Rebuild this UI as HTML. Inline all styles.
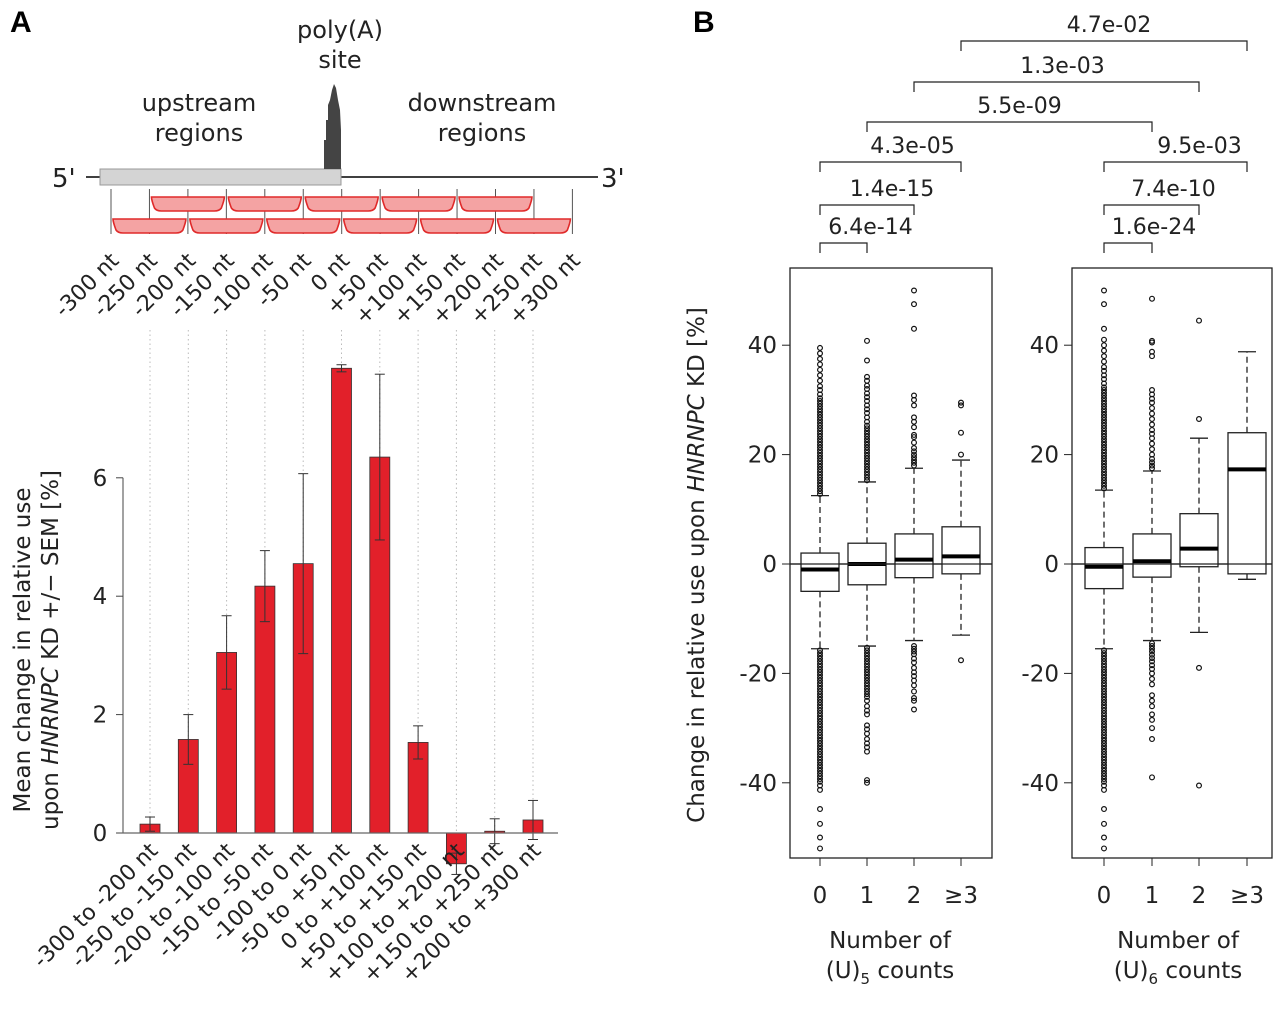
<!DOCTYPE html>
<html><head><meta charset="utf-8"><style>
body{margin:0;background:#fff}
svg{font-family:"DejaVu Sans","Liberation Sans",sans-serif}
</style></head><body>
<svg id="fig" width="1280" height="1024" viewBox="0 0 1280 1024" xmlns="http://www.w3.org/2000/svg">
<text x="10" y="32" font-size="30" font-weight="bold" font-family="Liberation Sans,sans-serif">A</text>
<text x="693" y="32" font-size="30" font-weight="bold" font-family="Liberation Sans,sans-serif">B</text>
<g font-size="24" fill="#222">
 <text x="340" y="38" text-anchor="middle">poly(A)</text>
 <text x="340" y="68" text-anchor="middle">site</text>
 <text x="199" y="111" text-anchor="middle">upstream</text>
 <text x="199" y="141" text-anchor="middle">regions</text>
 <text x="482" y="111" text-anchor="middle">downstream</text>
 <text x="482" y="141" text-anchor="middle">regions</text>
 <text x="52" y="187" font-size="26">5'</text>
 <text x="601" y="187" font-size="26">3'</text>
 <line x1="86" y1="177" x2="598" y2="177" stroke="#000" stroke-width="1.5"/>
 <rect x="100" y="169" width="241" height="16" fill="#d4d4d4" stroke="#999"/>
 <path d="M324,169 L324,140 L326,140 L326,120 L328,120 L328,105 L330,100 L332,90 L334,84 L336,88 L338,100 L340,110 L341,130 L341,169 Z" fill="#444"/>
</g>
<g id="schem"></g>
<g id="barchart"></g>
<g id="boxes"></g>
</svg>
<script>
const NS="http://www.w3.org/2000/svg";
function mk(tag,attrs,parent,txt){const e=document.createElementNS(NS,tag);for(const k in attrs)e.setAttribute(k,attrs[k]);if(txt!==undefined)e.textContent=txt;parent.appendChild(e);return e;}

// ---------- Panel A data ----------
const posLabels=["-300 nt","-250 nt","-200 nt","-150 nt","-100 nt","-50 nt","0 nt","+50 nt","+100 nt","+150 nt","+200 nt","+250 nt","+300 nt"];
const barCategories=["-300 to -200 nt","-250 to -150 nt","-200 to -100 nt","-150 to -50 nt","-100 to 0 nt","-50 to +50 nt","0 to +100 nt","+50 to +150 nt","+100 to +200 nt","+150 to +250 nt","+200 to +300 nt"];
const barValues=[0.15,1.58,3.05,4.17,4.55,7.85,6.35,1.53,-0.52,0.03,0.22];
const barErrors=[0.12,0.42,0.62,0.6,1.52,0.06,1.4,0.28,0.18,0.21,0.33];
const yTicksA=[0,2,4,6];

const schem=document.getElementById('schem');
const posX=i=>111+i*38.45;
posLabels.forEach((l,i)=>{
 const x=posX(i);
 const ln=mk('line',{x1:x,y1:189,x2:x,y2:234,stroke:'#555','stroke-width':1},schem);
 
 
 const t=mk('text',{x:x+9,y:262,'text-anchor':'end','font-size':22,fill:'#222',transform:`rotate(-45 ${x+9} 262)`},schem,l);
 
 
});
function seg(x1,x2,y){
 const p=mk('path',{d:`M${x1+2},${y} L${x2-2},${y} Q${x2-2},${y+3} ${x2-5},${y+11} Q${x2-7},${y+14} ${x2-12},${y+14} L${x1+12},${y+14} Q${x1+7},${y+14} ${x1+5},${y+11} Q${x1+2},${y+3} ${x1+2},${y} Z`,fill:'#f4a3a3',stroke:'#e02a2a','stroke-width':1.6},schem);
 
 
}
for(let i=1;i<=9;i+=2)seg(posX(i),posX(i+2),197);
for(let i=0;i<=10;i+=2)seg(posX(i),posX(i+2),219);

// bar chart
const bc=document.getElementById('barchart');
const yA=v=>833-v*59.2;
const bx=i=>150+i*38.3;
barCategories.forEach((c,i)=>{
 const x=bx(i);
 const d=mk('line',{x1:x,y1:330,x2:x,y2:833,stroke:'#bbb','stroke-dasharray':'1.5,3','stroke-width':1},bc);
 
 
});
yTicksA.forEach(v=>{
 const t=mk('line',{x1:116,y1:yA(v),x2:123,y2:yA(v),stroke:'#444'},bc);
 
 
 const l=mk('text',{x:100,y:yA(v)+8,'text-anchor':'middle','font-size':23,fill:'#222'},bc,String(v));
 
 
});
mk('line',{x1:123,y1:yA(0),x2:123,y2:yA(6),stroke:'#444'},bc);
barValues.forEach((v,i)=>{
 const x=bx(i),w=20;
 const r=mk('rect',{x:x-w/2,y:Math.min(yA(v),yA(0)),width:w,height:Math.abs(yA(v)-yA(0)),fill:'#e2202a',stroke:'#333','stroke-width':0.8},bc);
 
 
 const e=barErrors[i],g=mk('g',{stroke:'#333','stroke-width':1},bc);
 
 
 mk('line',{x1:x,y1:yA(v+e),x2:x,y2:yA(v-e)},g);
 mk('line',{x1:x-5,y1:yA(v+e),x2:x+5,y2:yA(v+e)},g);
 mk('line',{x1:x-5,y1:yA(v-e),x2:x+5,y2:yA(v-e)},g);
 const t=mk('text',{x:x+9,y:852,'text-anchor':'end','font-size':22,fill:'#222',transform:`rotate(-45 ${x+9} 852)`},bc,barCategories[i]);
 
 
});
const base=mk('line',{x1:117,y1:yA(0),x2:558,y2:yA(0),stroke:'#666','stroke-width':1.2},bc);


const yt=mk('text',{'font-size':23,fill:'#222','text-anchor':'middle',transform:'translate(30 650) rotate(-90)'},bc);


yt.innerHTML='<tspan x="0" y="0">Mean change in relative use</tspan><tspan x="0" y="28">upon <tspan font-style="italic">HNRNPC</tspan> KD +/− SEM [%]</tspan>';

// ---------- Panel B data ----------
const boxCats=["0","1","2","≥3"];
const u5Q1=[-5,-3.8,-2.5,-1.8], u5Med=[-1,0,0.8,1.4], u5Q3=[2,3.8,5.5,6.8], u5WLo=[-15.5,-15,-14,-13], u5WHi=[12.5,15,17.5,19];
const u6Q1=[-4.5,-2.4,-0.5,-1.8], u6Med=[-0.5,0.5,2.8,17.3], u6Q3=[3,5.5,9.2,24], u6WHi=[13.5,17,23,38.8], u6WLo=[-15.5,-14,-12.5,-2.8];
const u5Out=[
 [12.8,13.3,13.8,14.3,14.8,15.3,15.8,16.3,16.8,17.3,17.8,18.3,18.8,19.3,19.8,20.3,20.8,21.3,21.8,22.3,22.8,23.3,23.8,24.3,24.8,25.3,25.8,26.3,26.8,27.3,27.8,28.3,28.8,29.3,29.8,30.3,31,31.8,32.5,33.5,34.5,35.5,36.5,37.5,38.5,39.5,-15.8,-16.3,-16.8,-17.3,-17.8,-18.3,-18.8,-19.3,-19.8,-20.3,-20.8,-21.3,-21.8,-22.3,-22.8,-23.3,-23.8,-24.3,-24.8,-25.3,-25.8,-26.3,-26.8,-27.3,-27.8,-28.3,-28.8,-29.3,-29.8,-30.3,-30.8,-31.3,-31.8,-32.3,-32.8,-33.3,-33.8,-34.3,-34.8,-35.3,-35.8,-36.3,-36.8,-37.3,-37.8,-38.3,-38.8,-39.3,-39.8,-40.5,-41.3,-44.8,-47.5,-50,-52],
 [15.3,15.8,16.3,16.8,17.3,17.8,18.3,18.8,19.3,19.8,20.3,20.8,21.3,21.8,22.3,22.8,23.3,23.8,24.3,24.8,25.3,26,26.8,27.6,28.3,29,29.8,30.5,31.2,32,32.6,33.5,34.2,37.2,40.8,-15.3,-15.8,-16.3,-16.8,-17.3,-17.8,-18.3,-18.8,-19.3,-19.8,-20.3,-20.8,-21.3,-21.8,-22.3,-22.8,-23.3,-23.8,-24.3,-25,-26,-26.8,-27.5,-29.5,-30.2,-31,-32,-32.8,-33.5,-34.3,-39.5,-40],
 [18,18.5,19,19.5,20,20.6,21.2,22.2,23.2,23.6,25,26,26.8,29,30,30.8,43,47.5,50,-15,-15.5,-16,-16.5,-17.3,-18,-19,-19.8,-20.5,-21.3,-22.2,-23.3,-24.5,-25,-26.6],
 [20,24,29,29.5,-17.6]];
const u6Out=[
 [13.8,14.3,14.8,15.3,15.8,16.3,16.8,17.3,17.8,18.3,18.8,19.3,19.8,20.3,20.8,21.3,21.8,22.3,22.8,23.3,23.8,24.3,24.8,25.3,25.8,26.3,26.8,27.3,27.8,28.3,28.8,29.3,29.8,30.3,30.8,31.3,31.8,32.3,33,33.8,34.5,35.3,36,37,38,39,40,41,43,47.5,50,-15.8,-16.3,-16.8,-17.3,-17.8,-18.3,-18.8,-19.3,-19.8,-20.3,-20.8,-21.3,-21.8,-22.3,-22.8,-23.3,-23.8,-24.3,-24.8,-25.3,-25.8,-26.3,-26.8,-27.3,-27.8,-28.3,-28.8,-29.3,-29.8,-30.3,-30.8,-31.3,-31.8,-32.3,-32.8,-33.3,-33.8,-34.3,-34.8,-35.3,-35.8,-36.3,-36.8,-37.3,-37.8,-38.3,-38.8,-39.3,-39.8,-40.5,-41.3,-44.8,-47.5,-50,-52],
 [17.5,18,18.6,19.2,20,21,22,23,23.8,24.5,25.5,26.5,27.5,28.5,29.5,30.2,31,31.8,38,38.8,40.5,40.8,48.5,-14.5,-15,-15.5,-16,-16.6,-17.2,-17.8,-18.5,-19.2,-20,-21,-22,-24,-25,-26,-27.5,-28.5,-30,-32,-39],
 [26.5,44.5,-19,-40.5],
 []];
const pLabels=["6.4e-14","1.4e-15","4.3e-05","5.5e-09","1.3e-03","4.7e-02","1.6e-24","7.4e-10","9.5e-03"];
const pFrom=[0,0,0,1,2,3,4,4,4];
const pTo=[1,2,3,5,6,7,5,6,7];
const yTicksB=[-40,-20,0,20,40];

const bg=document.getElementById('boxes');
const yB=v=>564-v*5.47;
const cx=[820,867,914,961,1104,1152,1199,1247];
const frames=[[790,992],[1072,1272]];
frames.forEach((f,pi)=>{
 const r=mk('rect',{x:f[0],y:268,width:f[1]-f[0],height:590,fill:'none',stroke:'#222','stroke-width':1.3},bg);
 
 
 yTicksB.forEach(v=>{
  mk('line',{x1:f[0]-8,y1:yB(v),x2:f[0],y2:yB(v),stroke:'#222'},bg);
  const l=mk('text',{x:f[0]-13,y:yB(v)+8,'text-anchor':'end','font-size':23,fill:'#222'},bg,String(v));
  
  
 });
 const z=mk('line',{x1:f[0],y1:yB(0),x2:f[1],y2:yB(0),stroke:'#222','stroke-width':1.3},bg);
 
 
 const s=pi===0?'5':'6';
 const tt=mk('text',{'font-size':23,fill:'#222','text-anchor':'middle'},bg);
 
 
 const mid=pi===0?890:1178;
 tt.innerHTML=`<tspan x="${mid}" y="948">Number of</tspan><tspan x="${mid}" y="978">(U)<tspan font-size="15" dy="6">${s}</tspan><tspan dy="-6"> counts</tspan></tspan>`;
});
function drawBox(x,q1,md,q3,lo,hi,outs){
 const g=mk('g',{},bg);
 
 
 const w=19;
 mk('line',{x1:x,y1:yB(q3),x2:x,y2:yB(hi),stroke:'#222','stroke-dasharray':'6,4','stroke-width':1.3},g);
 mk('line',{x1:x,y1:yB(q1),x2:x,y2:yB(lo),stroke:'#222','stroke-dasharray':'6,4','stroke-width':1.3},g);
 mk('line',{x1:x-9,y1:yB(hi),x2:x+9,y2:yB(hi),stroke:'#222','stroke-width':1.3},g);
 mk('line',{x1:x-9,y1:yB(lo),x2:x+9,y2:yB(lo),stroke:'#222','stroke-width':1.3},g);
 mk('rect',{x:x-w,y:yB(q3),width:2*w,height:yB(q1)-yB(q3),fill:'#fff',stroke:'#222','stroke-width':1.3},g);
 mk('line',{x1:x-w,y1:yB(md),x2:x+w,y2:yB(md),stroke:'#000','stroke-width':4},g);
 outs.forEach(o=>mk('circle',{cx:x,cy:yB(o),r:2.4,fill:'none',stroke:'#111','stroke-width':1.2},g));
}
for(let i=0;i<4;i++){
 drawBox(cx[i],u5Q1[i],u5Med[i],u5Q3[i],u5WLo[i],u5WHi[i],u5Out[i]);
 drawBox(cx[i+4],u6Q1[i],u6Med[i],u6Q3[i],u6WLo[i],u6WHi[i],u6Out[i]);
}
frames.forEach(f=>mk('line',{x1:f[0],y1:yB(0),x2:f[1],y2:yB(0),stroke:'#222','stroke-width':1.3},bg));
cx.forEach((x,i)=>{
 mk('line',{x1:x,y1:858,x2:x,y2:866,stroke:'#222'},bg);
 const l=mk('text',{x:x,y:903,'text-anchor':'middle','font-size':23,fill:'#222'},bg,boxCats[i%4]);
 
 
});
const ybt=mk('text',{'font-size':23,fill:'#222','text-anchor':'middle',transform:'translate(704 565) rotate(-90)'},bg);


ybt.innerHTML='Change in relative use upon <tspan font-style="italic">HNRNPC</tspan> KD [%]';
const bracketY=[243,205,162,122,82,41,243,205,162];
const textOff=[27,25,22,10,6,5,26,22,24];
pLabels.forEach((p,i)=>{
 const x1=cx[pFrom[i]],x2=cx[pTo[i]],y=bracketY[i];
 const g=mk('g',{},bg);
 
 
 mk('path',{d:`M${x1},${y+10} L${x1},${y} L${x2},${y} L${x2},${y+10}`,fill:'none',stroke:'#222','stroke-width':1.2},g);
 mk('text',{x:(x1+x2)/2+textOff[i],y:y-9,'text-anchor':'middle','font-size':22,fill:'#222'},g,p);
});
</script>
</body></html>
